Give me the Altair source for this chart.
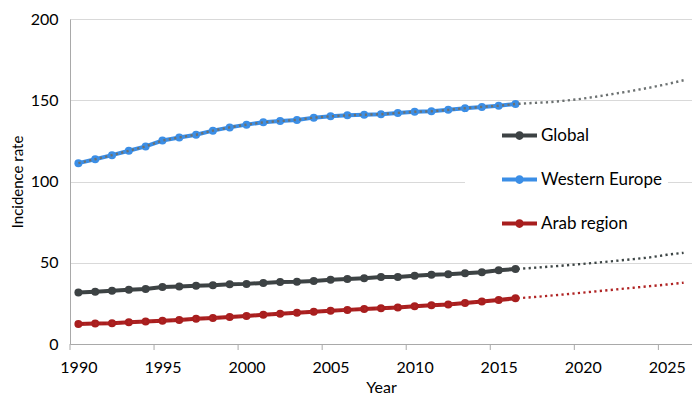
import altair as alt
import pandas as pd

# ---------------- data ----------------
years = list(range(1990, 2017))
proj_years = list(range(2017, 2027))

global_vals = [31.7, 32.2, 32.7, 33.4, 33.9, 35.1, 35.4, 35.8, 36.2, 36.8,
               37.0, 37.6, 38.1, 38.3, 38.8, 39.5, 40.0, 40.5, 41.2, 41.3,
               42.0, 42.6, 42.9, 43.6, 44.2, 45.4, 46.1]
we_vals = [111.3, 113.7, 116.2, 118.9, 121.6, 125.2, 127.1, 128.8, 131.3, 133.3,
           135.0, 136.4, 137.2, 137.9, 139.3, 140.1, 140.7, 141.1, 141.4, 142.2,
           142.9, 143.2, 144.1, 145.1, 145.9, 146.6, 147.7]
arab_vals = [12.3, 12.6, 12.8, 13.4, 13.9, 14.3, 14.8, 15.5, 16.0, 16.6,
             17.3, 18.0, 18.6, 19.2, 19.8, 20.4, 21.0, 21.5, 22.0, 22.5,
             23.2, 23.8, 24.3, 25.2, 26.1, 27.1, 28.1]

global_proj = [46.8, 47.6, 48.4, 49.3, 50.2, 51.2, 52.2, 53.3, 54.9, 56.1]
we_proj = [148.3, 148.8, 149.8, 151.0, 152.5, 154.2, 155.9, 157.8, 159.9, 162.3]
arab_proj = [28.8, 29.7, 30.6, 31.6, 32.6, 33.6, 34.6, 35.6, 36.6, 37.7]

series_names = ["Global", "Western Europe", "Arab region"]
series_colors = ["#3d4244", "#3b8ee6", "#a81e1e"]
trend_colors = ["#3d4545", "#6c7171", "#b02424"]

x_label_years = [1990, 1995, 2000, 2005, 2010, 2015, 2020, 2025]
x_tick_bounds = [1989.5, 1994.5, 1999.5, 2004.5, 2009.5, 2014.5, 2019.5, 2024.5]
y_ticks = [0, 50, 100, 150, 200]

# ---------------- tables ----------------
rows, trows = [], []
for name, vals, proj in zip(series_names,
                            [global_vals, we_vals, arab_vals],
                            [global_proj, we_proj, arab_proj]):
    for yr, v in zip(years, vals):
        rows.append({"series": name, "year": yr, "value": v})
    for yr, v in zip(years + proj_years, vals + proj):
        trows.append({"series": name, "year": yr, "value": v})
df = pd.DataFrame(rows)
tdf = pd.DataFrame(trows)
ticks_df = pd.DataFrame({"t": x_tick_bounds})

W, H = 622, 325
FONT = "Lato"
AXIS_GRAY = "#a9a9a9"

xscale = alt.Scale(domain=[1989.5, 2026.5], nice=False, zero=False)
xaxis = alt.Axis(values=x_label_years, format="d", ticks=False, grid=False,
                 domainColor=AXIS_GRAY, labelFontSize=16, labelPadding=15,
                 labelColor="black", title="Year", titleFontSize=16,
                 titleFontWeight="normal", titleColor="black", titlePadding=4,
                 labelFont=FONT, titleFont=FONT)
yscale = alt.Scale(domain=[0, 200], nice=False)
yaxis = alt.Axis(values=y_ticks, ticks=False, grid=True, gridColor="#d9d9d9",
                 domainColor=AXIS_GRAY, labelFontSize=16, labelPadding=12,
                 labelColor="black", title="Incidence rate", titleFontSize=15,
                 titleFontWeight="normal", titleColor="black", titlePadding=5,
                 labelFont=FONT, titleFont=FONT)

X = alt.X("year:Q", scale=xscale, axis=xaxis)
Y = alt.Y("value:Q", scale=yscale, axis=yaxis)

legend_symbol = ("M-1,-0.11H1V0.11H-1Z "
                 "M0.25,0A0.25,0.25,0,1,1,-0.25,0A0.25,0.25,0,1,1,0.25,0Z")

lines = alt.Chart(df).mark_line(strokeWidth=4).encode(
    x=X, y=Y,
    color=alt.Color("series:N", scale=alt.Scale(domain=series_names, range=series_colors),
                    legend=None),
    order="year:Q",
)

points = alt.Chart(df).mark_circle(size=64, opacity=1).encode(
    x=X, y=Y,
    color=alt.Color("series:N",
                    scale=alt.Scale(domain=series_names, range=series_colors),
                    legend=alt.Legend(title=None, orient="none", legendX=395, legendY=93,
                                      symbolType=legend_symbol, symbolSize=1225,
                                      symbolStrokeWidth=0, labelFontSize=17,
                                      labelFont=FONT, labelColor="black",
                                      fillColor="white", padding=6, rowPadding=18,
                                      symbolOffset=31, labelOffset=4)),
)

trend = alt.Chart(tdf).mark_line(strokeWidth=2.4, strokeDash=[2.2, 3.3]).encode(
    x=X, y=Y,
    color=alt.Color("series:N", scale=alt.Scale(domain=series_names, range=trend_colors),
                    legend=None),
    order="year:Q",
)

tick_marks = alt.Chart(ticks_df).mark_rule(color=AXIS_GRAY, strokeWidth=1).encode(
    x=alt.X("t:Q", scale=xscale, axis=xaxis),
    y=alt.value(H),
    y2=alt.value(H + 6),
)

chart = alt.layer(tick_marks, lines, points, trend).resolve_scale(
    color="independent"
).properties(
    width=W, height=H,
    autosize=alt.AutoSizeParams(type="none"),
    padding={"left": 62, "top": 11, "right": 0, "bottom": 50},
    background="white",
).configure_view(stroke=None).configure(font=FONT)

chart.save("out.html", embed_options={"renderer": "svg", "actions": False})
